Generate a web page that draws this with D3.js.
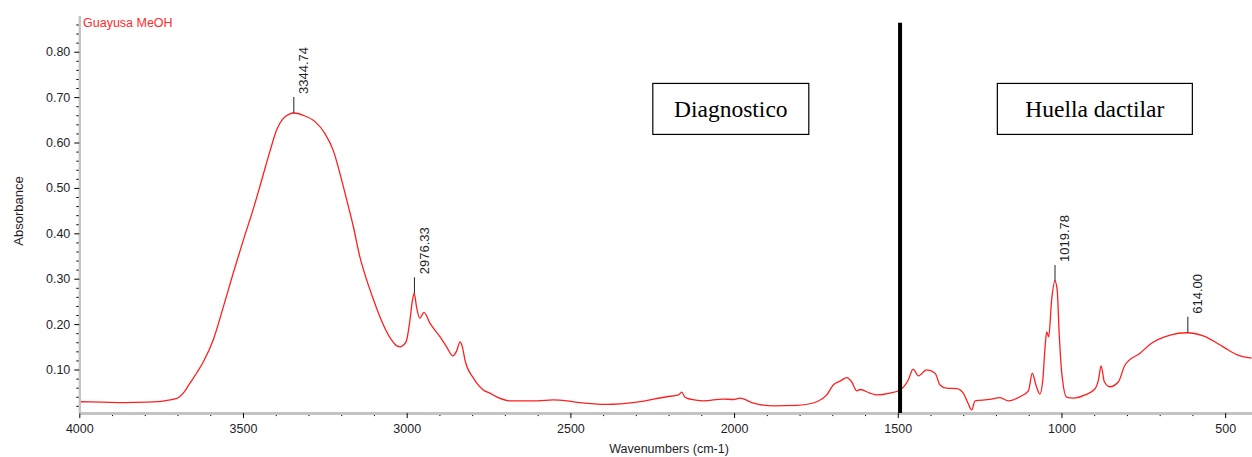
<!DOCTYPE html>
<html>
<head>
    <meta charset="utf-8">
    <title>Guayusa MeOH</title>
    <script src="https://d3js.org/d3.v7.min.js"></script>
    <style>
        body { margin: 0; background: #fff; }
        svg { display: block; }
    </style>
</head>
<body>
    <div id="chart"></div>
    <script>
        // spectrum (wavenumber cm-1, absorbance)
        const wavenumbers = [3995, 3930, 3860, 3794, 3740, 3700, 3680, 3662, 3640, 3621, 3591, 3560, 3530, 3499, 3468,
            3443, 3418, 3397, 3377, 3360, 3345, 3316, 3280, 3250, 3223, 3204, 3183, 3163, 3143, 3122, 3101, 3080, 3050,
            3030, 3020, 3008, 3000, 2990, 2983, 2977, 2970, 2960, 2947, 2929, 2898, 2878, 2859, 2848, 2837, 2830, 2822,
            2796, 2786, 2766, 2746, 2720, 2685, 2600, 2552, 2511, 2471, 2389, 2297, 2206, 2170, 2160, 2150, 2130, 2094,
            2033, 2002, 1982, 1941, 1880, 1809, 1747, 1717, 1697, 1675, 1656, 1641, 1625, 1615, 1585, 1564, 1524, 1493,
            1468, 1453, 1437, 1412, 1386, 1371, 1351, 1320, 1300, 1285, 1274, 1264, 1219, 1188, 1162, 1127, 1101, 1089,
            1078, 1066, 1057, 1050, 1045, 1039, 1030, 1020, 1013, 1007, 999, 984, 964, 928, 898, 887, 879, 869, 852,
            826, 806, 760, 725, 668, 618, 567, 506, 465, 419];
        const absorbance = [0.029, 0.028, 0.027, 0.028, 0.031, 0.037, 0.050, 0.070, 0.094, 0.117, 0.165, 0.238, 0.312, 0.385, 0.455,
            0.517, 0.580, 0.628, 0.653, 0.662, 0.665, 0.660, 0.646, 0.620, 0.580, 0.532, 0.473, 0.415, 0.348, 0.297, 0.253, 0.213, 0.169,
            0.152, 0.150, 0.155, 0.165, 0.209, 0.250, 0.268, 0.238, 0.213, 0.226, 0.202, 0.172, 0.150, 0.130, 0.140, 0.161, 0.150, 0.121,
            0.081, 0.070, 0.055, 0.048, 0.038, 0.031, 0.031, 0.033, 0.031, 0.027, 0.023, 0.028, 0.040, 0.044, 0.050, 0.039, 0.034, 0.031,
            0.035, 0.034, 0.037, 0.026, 0.020, 0.021, 0.029, 0.044, 0.066, 0.075, 0.082, 0.073, 0.053, 0.056, 0.048, 0.044, 0.048, 0.055,
            0.077, 0.101, 0.086, 0.099, 0.092, 0.066, 0.059, 0.058, 0.048, 0.025, 0.011, 0.031, 0.034, 0.038, 0.031, 0.040, 0.053, 0.092,
            0.066, 0.046, 0.077, 0.150, 0.183, 0.172, 0.253, 0.295, 0.275, 0.180, 0.092, 0.039, 0.037, 0.044, 0.057, 0.077, 0.108, 0.073, 0.062,
            0.073, 0.110, 0.136, 0.158, 0.176, 0.181, 0.174, 0.150, 0.133, 0.125];

        // labelled peaks
        const peakWavenumbers = [3344.74, 2976.33, 1019.78, 614.00];
        const peakAbsorbance = [0.665, 0.268, 0.295, 0.181];

        const xMajorTicks = [4000, 3500, 3000, 2500, 2000, 1500, 1000, 500];
        const yMajorTicks = [0.10, 0.20, 0.30, 0.40, 0.50, 0.60, 0.70, 0.80];

        // region boxes
        const regionNames = ["Diagnostico", "Huella dactilar"];
        const regionCenters = [2010, 898];
        const dividerWavenumber = 1493;

        const width = 1252, height = 457;

        const x = d3.scaleLinear().domain([4000, 418]).range([79.3, 1252]);
        const y = d3.scaleLinear().domain([0.004, 0.88]).range([413.1, 15.4]);

        const svg = d3.select("#chart")
            .append("svg")
            .attr("width", width)
            .attr("height", height)
            .style("font-family", "'Liberation Sans', Arial, sans-serif");

        const data = wavenumbers.map((w, i) => ({ w: w, a: absorbance[i] }));

        // x axis: minor then major
        const xMinor = d3.range(4000, 400, -100).filter(d => d % 500 !== 0);
        svg.append("g")
            .attr("transform", `translate(0,${y.range()[0]})`)
            .call(d3.axisBottom(x).tickValues(xMinor).tickSize(3).tickFormat(""))
            .call(g => g.select(".domain").remove());
        const xAxis = svg.append("g")
            .attr("transform", `translate(0,${y.range()[0]})`)
            .call(d3.axisBottom(x).tickValues(xMajorTicks).tickSize(5).tickPadding(6).tickFormat(d3.format("d")).tickSizeOuter(0));
        xAxis.select(".domain").attr("stroke", "#c4c4c4").attr("stroke-width", 3);
        xAxis.selectAll("text").attr("font-size", "12.5px").attr("fill", "#1e1e28");

        // y axis
        const yMinor = d3.range(0.02, 0.87, 0.02).filter(d => Math.abs(d * 10 - Math.round(d * 10)) > 0.01);
        svg.append("g")
            .attr("transform", `translate(${x.range()[0]},0)`)
            .call(d3.axisLeft(y).tickValues(yMinor).tickSize(3).tickFormat(""))
            .call(g => g.select(".domain").remove());
        const yAxis = svg.append("g")
            .attr("transform", `translate(${x.range()[0]},0)`)
            .call(d3.axisLeft(y).tickValues(yMajorTicks).tickSize(5).tickPadding(4).tickFormat(d3.format(".2f")).tickSizeOuter(0));
        yAxis.select(".domain").attr("stroke", "#c4c4c4").attr("stroke-width", 2.5);
        yAxis.selectAll("text").attr("font-size", "12.5px").attr("fill", "#1e1e28");

        // axis titles
        svg.append("text")
            .attr("transform", "translate(23,211) rotate(-90)")
            .attr("text-anchor", "middle")
            .attr("font-size", "13px")
            .attr("fill", "#1e1e28")
            .text("Absorbance");
        svg.append("text")
            .attr("x", 669)
            .attr("y", 453)
            .attr("text-anchor", "middle")
            .attr("font-size", "12.5px")
            .attr("fill", "#1e1e28")
            .text("Wavenumbers (cm-1)");

        svg.append("text")
            .attr("x", 83)
            .attr("y", 27)
            .attr("font-size", "12.5px")
            .attr("fill", "#ff2a2a")
            .text("Guayusa MeOH");

        // spectrum
        const line = d3.line()
            .x(d => x(d.w))
            .y(d => y(d.a))
            .curve(d3.curveMonotoneX);

        svg.append("path")
            .datum(data)
            .attr("fill", "none")
            .attr("stroke", "#ff1f1f")
            .attr("stroke-width", 1.3)
            .attr("d", line);

        // peak labels
        const peaks = svg.append("g");
        peakWavenumbers.forEach((w, i) => {
            const px = x(w), py = y(peakAbsorbance[i]);
            peaks.append("line")
                .attr("x1", px).attr("x2", px)
                .attr("y1", py).attr("y2", py - 16)
                .attr("stroke", "#222").attr("stroke-width", 1);
            peaks.append("text")
                .attr("transform", `translate(${px + 14.5},${py - 19}) rotate(-90)`)
                .attr("font-size", "13px")
                .attr("fill", "#1e1e28")
                .text(d3.format(".2f")(w));
        });

        // divider between regions
        svg.append("line")
            .attr("x1", x(dividerWavenumber)).attr("x2", x(dividerWavenumber))
            .attr("y1", y(0.864)).attr("y2", y.range()[0])
            .attr("stroke", "#000").attr("stroke-width", 4);

        // region boxes
        const boxWidths = [156, 195];
        regionNames.forEach((name, i) => {
            const cx = x(regionCenters[i]), cy = y(0.674);
            svg.append("rect")
                .attr("x", cx - boxWidths[i] / 2).attr("y", cy - 25.5)
                .attr("width", boxWidths[i]).attr("height", 51)
                .attr("fill", "#fff").attr("stroke", "#000").attr("stroke-width", 1.2);
            svg.append("text")
                .attr("x", cx).attr("y", cy + 8)
                .attr("text-anchor", "middle")
                .attr("font-family", "'Liberation Serif', 'Times New Roman', serif")
                .attr("font-size", "23.5px")
                .attr("fill", "#000")
                .text(name);
        });
    </script>
</body>
</html>
